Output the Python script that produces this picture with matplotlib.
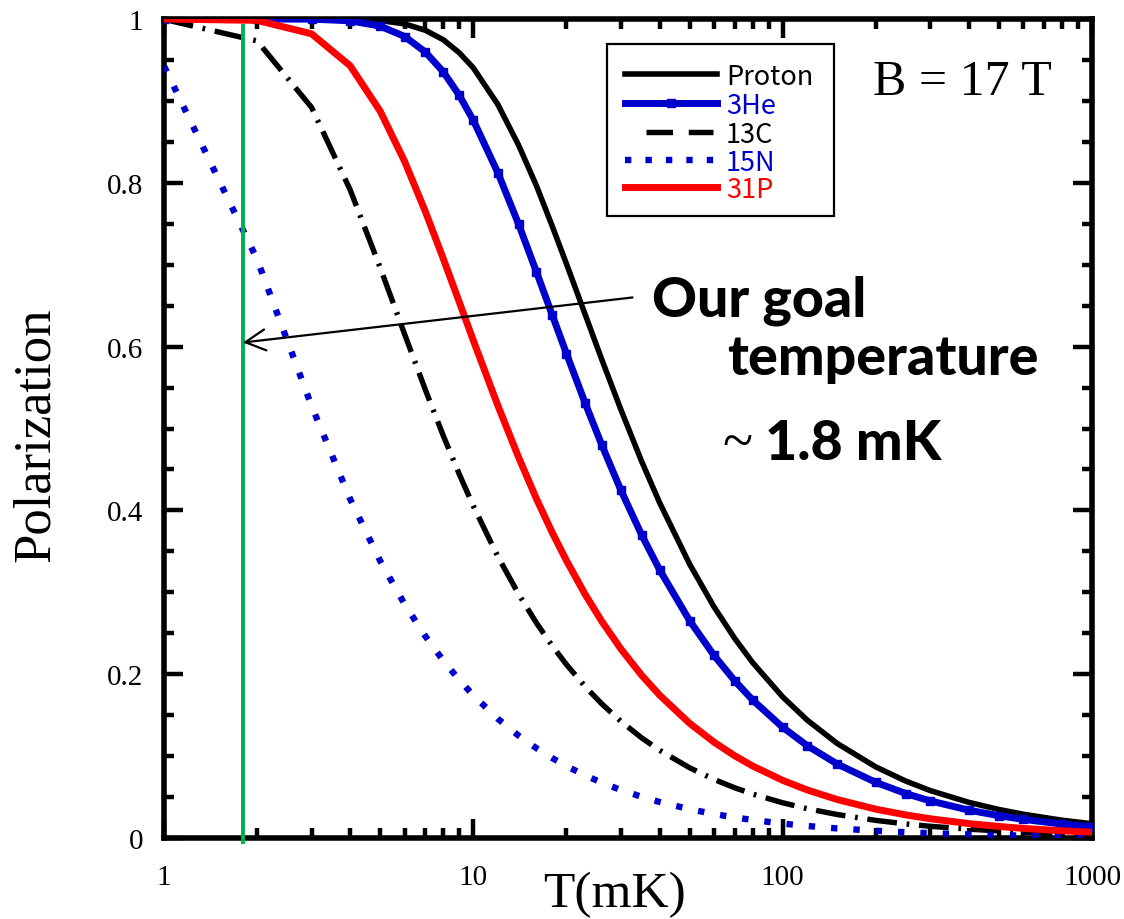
import matplotlib
matplotlib.use("Agg")
import matplotlib.pyplot as plt
from matplotlib.ticker import MultipleLocator, FixedLocator, FixedFormatter, LogLocator, NullFormatter
from matplotlib.lines import Line2D
from matplotlib.patches import Rectangle

# ---- data: nuclear spin polarization at B = 17 T ----
T_mK = [1, 2, 3, 4, 5, 6, 7, 8, 9, 10, 12, 14, 16, 18, 20, 23, 26, 30, 35, 40,
        50, 60, 70, 80, 100, 120, 150, 200, 250, 300, 400, 500, 600, 800, 1000]

proton = [1.000, 1.000, 1.000, 0.9997, 0.9981, 0.9940, 0.9862, 0.9746, 0.9589, 0.9403,
          0.8957, 0.8461, 0.7963, 0.7469, 0.7011, 0.6390, 0.5845, 0.5230, 0.4599, 0.4095,
          0.3346, 0.2821, 0.2436, 0.2141, 0.1723, 0.1440, 0.1155, 0.0868, 0.0695, 0.0579,
          0.0435, 0.0348, 0.0290, 0.0217, 0.0174]

he3 = [1.000, 1.000, 0.9998, 0.9978, 0.9913, 0.9786, 0.9596, 0.9354, 0.9070, 0.8763,
       0.8124, 0.7497, 0.6911, 0.6384, 0.5915, 0.5308, 0.4802, 0.4246, 0.3701, 0.3275,
       0.2655, 0.2229, 0.1919, 0.1684, 0.1352, 0.1128, 0.0904, 0.0679, 0.0543, 0.0453,
       0.0340, 0.0272, 0.0227, 0.0170, 0.0136]

c13 = [0.9996, 0.9732, 0.8920, 0.7912, 0.6963, 0.6149, 0.5471, 0.4910, 0.4445, 0.4053,
       0.3437, 0.2979, 0.2625, 0.2345, 0.2118, 0.1848, 0.1639, 0.1424, 0.1223, 0.1071,
       0.0858, 0.0715, 0.0613, 0.0537, 0.0430, 0.0358, 0.0287, 0.0215, 0.0172, 0.0143,
       0.0108, 0.0086, 0.0072, 0.0054, 0.0043]

n15 = [0.9426, 0.7064, 0.5275, 0.4136, 0.3382, 0.2852, 0.2463, 0.2165, 0.1931, 0.1742,
       0.1456, 0.1250, 0.1096, 0.0975, 0.0878, 0.0764, 0.0676, 0.0586, 0.0503, 0.0440,
       0.0352, 0.0293, 0.0251, 0.0220, 0.0176, 0.0147, 0.0117, 0.0088, 0.0070, 0.0059,
       0.0044, 0.0035, 0.0029, 0.0022, 0.0018]

p31 = [1.000, 0.9983, 0.9819, 0.9428, 0.8874, 0.8259, 0.7647, 0.7071, 0.6547, 0.6074,
       0.5281, 0.4650, 0.4141, 0.3728, 0.3387, 0.2973, 0.2647, 0.2308, 0.1987, 0.1745,
       0.1401, 0.1170, 0.1004, 0.0879, 0.0704, 0.0587, 0.0470, 0.0352, 0.0282, 0.0235,
       0.0176, 0.0141, 0.0117, 0.0088, 0.0070]

series_names = ["Proton", "3He", "13C", "15N", "31P"]
goal_T = 1.8

x_ticks = [1, 10, 100, 1000]
x_ticklabels = ["1", "10", "100", "1000"]
y_ticks = [0, 0.2, 0.4, 0.6, 0.8, 1.0]
y_ticklabels = ["0", "0.2", "0.4", "0.6", "0.8", "1"]

BLUE = "#0000cc"
RED = "#ff0000"
GREEN = "#00b050"
SERIF = ["Liberation Serif", "DejaVu Serif"]
GOTHIC = ["Noto Sans CJK JP", "DejaVu Sans"]
HEAVY = ["Lato", "Roboto", "DejaVu Sans"]

W, H = 1124, 920
fig = plt.figure(figsize=(W / 100, H / 100), dpi=100)
ax = fig.add_axes([164 / W, 1 - 839 / H, (1092 - 164) / W, (839 - 20) / H])


def fx(px):
    return px / W


def fy(py):
    return 1 - py / H


# ---- curves ----
ax.plot(T_mK, proton, color="black", lw=4.0, zorder=3)
ax.plot(T_mK, he3, color=BLUE, lw=5.0, marker="s", ms=6.0, mec=BLUE, mfc=BLUE, zorder=3)
ax.plot(T_mK, c13, color="black", lw=3.9, dashes=(5.5, 1.8, 0.5, 1.8),
        dash_capstyle="butt", zorder=3)
ax.plot(T_mK, n15, color=BLUE, lw=4.6, dashes=(1, 2.5), dash_capstyle="butt", zorder=3)
ax.plot(T_mK, p31, color=RED, lw=5.0, zorder=3)

# goal temperature marker
ax.plot([goal_T, goal_T], [0.992, -0.005], color=GREEN, lw=2.8, clip_on=False, zorder=4)
ax.annotate("", xy=(goal_T, 0.605), xytext=(32.7, 0.66),
            arrowprops=dict(arrowstyle="->,head_length=0.8,head_width=0.42",
                            mutation_scale=18, lw=1.6, color="black",
                            shrinkA=0, shrinkB=0), zorder=6)

# ---- axes ----
ax.set_xscale("log")
ax.set_xlim(1, 1000)
ax.set_ylim(0, 1)
ax.xaxis.set_major_locator(FixedLocator(x_ticks))
ax.xaxis.set_major_formatter(FixedFormatter(x_ticklabels))
ax.xaxis.set_minor_locator(LogLocator(base=10, subs=range(2, 10)))
ax.xaxis.set_minor_formatter(NullFormatter())
ax.yaxis.set_major_locator(FixedLocator(y_ticks))
ax.yaxis.set_major_formatter(FixedFormatter(y_ticklabels))
ax.yaxis.set_minor_locator(MultipleLocator(0.05))

for s in ax.spines.values():
    s.set_linewidth(4.0)
ax.tick_params(which="both", direction="in", top=True, right=True, width=3.2)
ax.tick_params(which="major", length=13.5)
ax.tick_params(which="minor", length=7)
ax.tick_params(axis="x", which="major", pad=19)
ax.tick_params(axis="y", which="major", pad=15)
for lab in ax.get_xticklabels() + ax.get_yticklabels():
    lab.set_fontfamily(SERIF)
    lab.set_fontsize(21)

fig.text(fx(36), fy(435), "Polarization", rotation=90, ha="center", va="center",
         family=SERIF, size=38)
fig.text(fx(614), fy(895), "T(mK)", ha="center", va="center", family=SERIF, size=37)
fig.text(fx(873), fy(95), "B = 17 T", ha="left", va="baseline", family=SERIF, size=36)

# ---- annotation text ----
fig.text(fx(652), fy(316), "Our goal", ha="left", va="baseline", family=HEAVY,
         weight="black", size=40, zorder=6)
fig.text(fx(727), fy(375), "temperature", ha="left", va="baseline", family=HEAVY,
         weight="black", size=40, zorder=6)
fig.text(fx(722), fy(459), "~", ha="left", va="baseline", family=SERIF, size=40, zorder=6)
fig.text(fx(765), fy(460), "1.8 mK", ha="left", va="baseline", family=HEAVY,
         weight="black", size=40, zorder=6)

# ---- legend ----
fig.add_artist(Rectangle((fx(607), fy(217)), 227 / W, 172 / H, transform=fig.transFigure,
                         facecolor="white", edgecolor="black", lw=1.6, zorder=5))
rows = [75, 104, 133, 161, 188]
x0, x1 = 625, 717
styles = [
    dict(color="black", lw=4.0),
    dict(color=BLUE, lw=5.0, marker="s", ms=6.0, markevery=[1]),
    dict(color="black", lw=3.9, dashes=(4.9, 2.9), dash_capstyle="butt"),
    dict(color=BLUE, lw=4.6, dashes=(1, 2.2), dash_capstyle="butt"),
    dict(color=RED, lw=5.0),
]
text_colors = ["black", BLUE, "black", BLUE, RED]
for name, row, st, tc in zip(series_names, rows, styles, text_colors):
    xs = [fx(x0), fx((x0 + x1) / 2), fx(x1)]
    if name == "13C":
        xs = [fx(646), fx(680), fx(713)]
    fig.add_artist(Line2D(xs, [fy(row)] * 3, transform=fig.transFigure, zorder=6, **st))
    fig.text(fx(726), fy(row + 10), name, ha="left", va="baseline", family=GOTHIC,
             size=19.5, color=tc, zorder=6)

fig.savefig("out.png", dpi=100)
